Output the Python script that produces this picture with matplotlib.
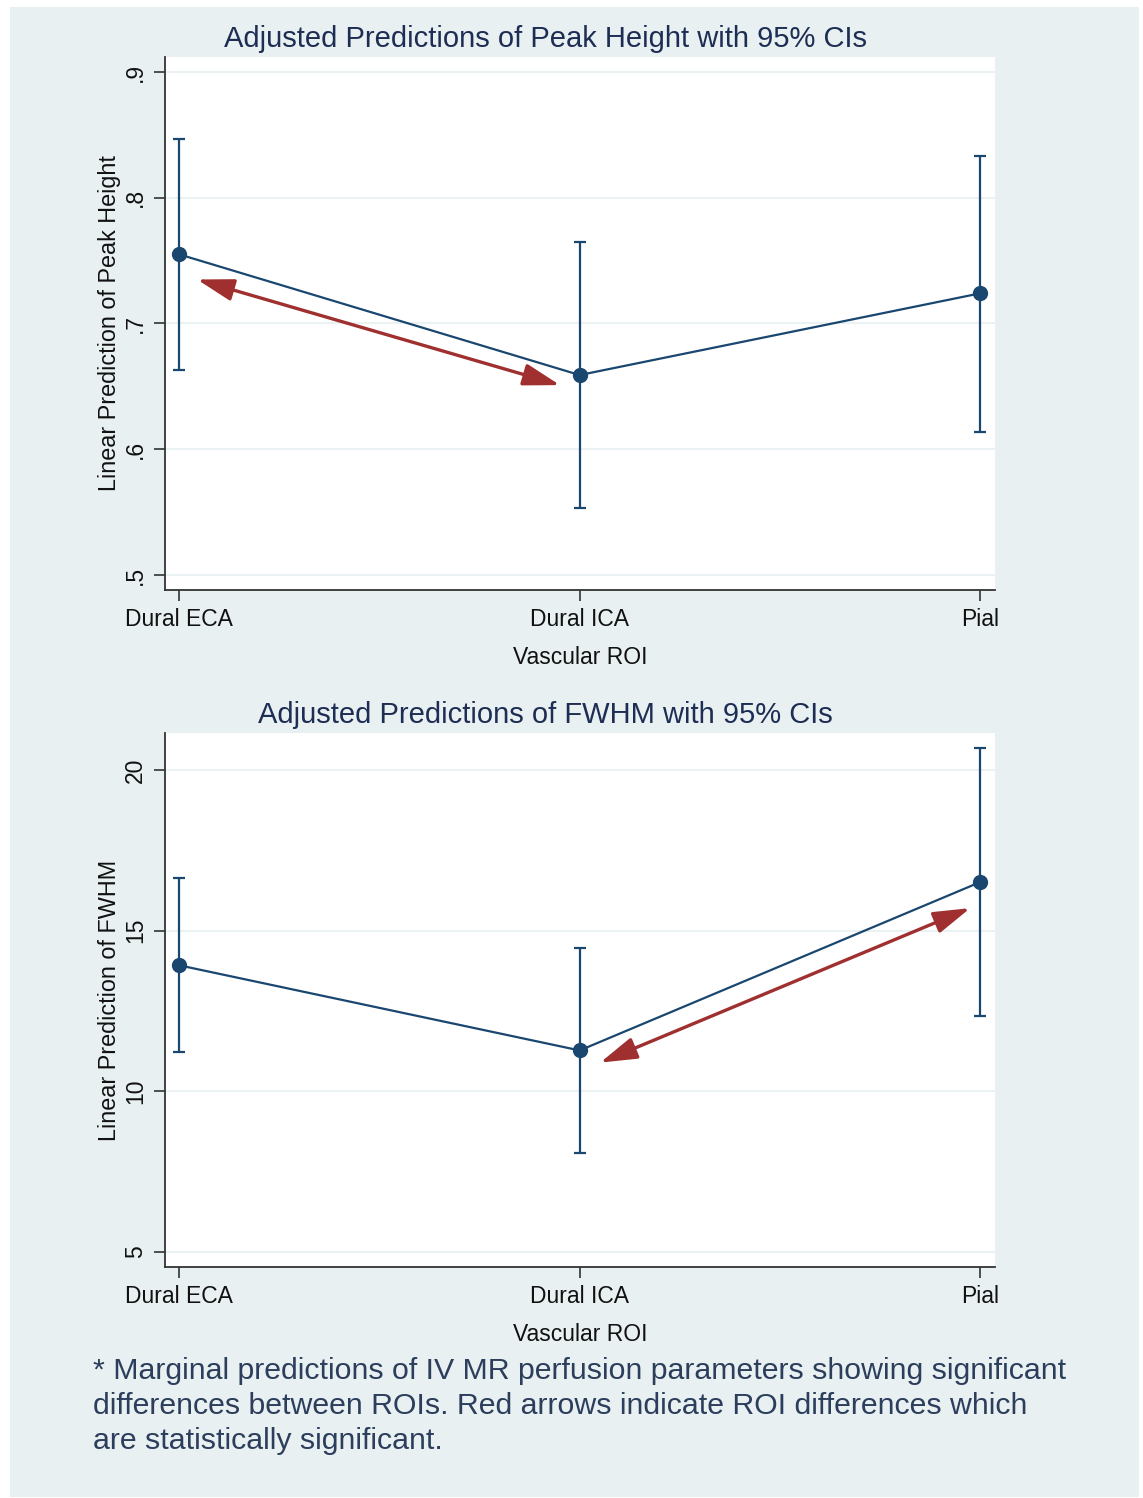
import matplotlib.pyplot as plt
from matplotlib.patches import Rectangle

# Categories and marginal predictions
rois = ['Dural ECA', 'Dural ICA', 'Pial']

peak_mean = [0.755, 0.659, 0.724]
peak_lo = [0.663, 0.553, 0.614]
peak_hi = [0.847, 0.765, 0.833]

fwhm_mean = [13.92, 11.27, 16.51]
fwhm_lo = [11.21, 8.09, 12.33]
fwhm_hi = [16.63, 14.45, 20.69]

# significant differences (arrow endpoints, category index / value)
peak_arrow = [(1.045, 0.735), (1.951, 0.651)]
fwhm_arrow = [(2.051, 10.89), (2.975, 15.70)]

navy = '#1a476f'
red = '#a0302f'
bg = '#e8f0f2'
text_col = '#1e2d53'

plt.rcParams['font.family'] = ['Liberation Sans', 'DejaVu Sans']

fig = plt.figure(figsize=(11.43, 14.98), dpi=100)
fig.patches.append(Rectangle((10 / 1143, 1 - 1497 / 1498), 1129 / 1143, 1490 / 1498,
                             transform=fig.transFigure, facecolor=bg, edgecolor='none', zorder=-10))


def draw(ax, mean, lo, hi, arrow, yticks, ylabels, ylim, title, ylabel):
    x = [1, 2, 3]
    err = [[m - l for m, l in zip(mean, lo)], [h - m for m, h in zip(mean, hi)]]
    ax.errorbar(x, mean, yerr=err, color=navy, lw=1.6, capsize=4, capthick=1.6,
                marker='o', ms=10, zorder=3)
    ax.annotate('', xy=arrow[1], xytext=arrow[0],
                arrowprops=dict(arrowstyle='<|-|>,head_length=0.8,head_width=0.24', color=red,
                                lw=2.4, mutation_scale=28, shrinkA=0, shrinkB=0), zorder=4)
    ax.set_xlim(0.965, 3.037)
    ax.set_ylim(*ylim)
    ax.set_xticks(x)
    ax.set_xticklabels(rois, fontsize=16.5, color='#111111')
    ax.set_yticks(yticks)
    ax.set_yticklabels(ylabels, fontsize=16.5, rotation=90, va='center', color='#111111')
    ax.grid(axis='y', color='#eaf2f3', lw=1.5)
    ax.set_axisbelow(True)
    for s in ['top', 'right']:
        ax.spines[s].set_visible(False)
    for s in ['left', 'bottom']:
        ax.spines[s].set_color('#333333')
        ax.spines[s].set_linewidth(1.3)
    ax.tick_params(length=8, width=1.2, color='#333333', pad=5)
    ax.set_xlabel('Vascular ROI', fontsize=16.5, color='#111111', labelpad=11)
    ax.set_ylabel(ylabel, fontsize=16.8, color='#111111', labelpad=2)
    ax.set_title(title, fontsize=21, color=text_col, pad=7, x=0.458)


ax1 = fig.add_axes([0.1444, 0.6061, 0.7262, 0.3559])
draw(ax1, peak_mean, peak_lo, peak_hi, peak_arrow,
     [0.5, 0.6, 0.7, 0.8, 0.9], ['.5', '.6', '.7', '.8', '.9'], (0.488, 0.912),
     'Adjusted Predictions of Peak Height with 95% CIs', 'Linear Prediction of Peak Height')

ax2 = fig.add_axes([0.1444, 0.1542, 0.7262, 0.3565])
draw(ax2, fwhm_mean, fwhm_lo, fwhm_hi, fwhm_arrow,
     [5, 10, 15, 20], ['5', '10', '15', '20'], (4.53, 21.15),
     'Adjusted Predictions of FWHM with 95% CIs', 'Linear Prediction of FWHM')

fig.text(93 / 1143, 1 - 1357 / 1498,
         '* Marginal predictions of IV MR perfusion parameters showing significant\n'
         'differences between ROIs. Red arrows indicate ROI differences which\n'
         'are statistically significant.',
         fontsize=21.8, color='#2c3e5c', va='top', ha='left', linespacing=1.32)

fig.savefig('out.png', dpi=100, facecolor='white')
